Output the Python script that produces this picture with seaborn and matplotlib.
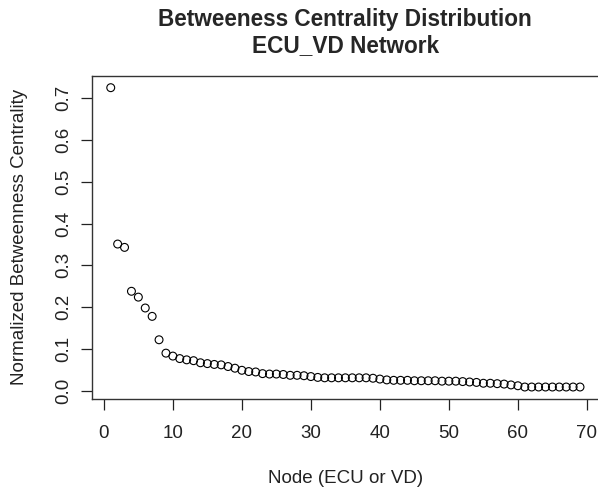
import numpy as np
import pandas as pd
import seaborn as sns
import matplotlib.pyplot as plt

# betweenness values per node
nodes = list(range(1, 70))
betweenness = [
    0.725, 0.351, 0.343, 0.238, 0.224, 0.198, 0.178, 0.122, 0.090, 0.083,
    0.077, 0.074, 0.072, 0.067, 0.065, 0.063, 0.062, 0.058, 0.054, 0.049,
    0.046, 0.045, 0.041, 0.040, 0.040, 0.039, 0.037, 0.037, 0.036, 0.034,
    0.032, 0.031, 0.031, 0.031, 0.031, 0.031, 0.031, 0.031, 0.030, 0.028,
    0.026, 0.025, 0.025, 0.025, 0.024, 0.024, 0.024, 0.024, 0.023, 0.023,
    0.023, 0.022, 0.021, 0.020, 0.018, 0.018, 0.017, 0.016, 0.014, 0.012,
    0.009, 0.009, 0.009, 0.009, 0.009, 0.009, 0.009, 0.009, 0.009,
]
x_ticks = [0, 10, 20, 30, 40, 50, 60, 70]
y_ticks = [0.0, 0.1, 0.2, 0.3, 0.4, 0.5, 0.6, 0.7]

df = pd.DataFrame({"node": nodes, "betweenness": betweenness})

sns.set_style("ticks")
plt.rcParams['font.family'] = ['Liberation Sans', 'DejaVu Sans']

fig = plt.figure(figsize=(5.98, 4.91), dpi=100)
ax = fig.add_axes([0.1538, 0.1874, 0.8475, 0.6584])

sns.scatterplot(data=df, x="node", y="betweenness", ax=ax, s=32,
                marker="o", edgecolor="black", linewidth=0.8, legend=False)
ax.collections[0].set_facecolor("none")

pad_x = (max(nodes) - min(nodes)) * 0.04
pad_y = (max(betweenness) - min(betweenness)) * 0.04
ax.set_xlim(min(nodes) - pad_x, max(nodes) + pad_x)
ax.set_ylim(min(betweenness) - pad_y, max(betweenness) + pad_y)

ax.set_xticks(x_ticks)
ax.set_yticks(y_ticks)
ax.set_yticklabels([f"{v:.1f}" for v in y_ticks], rotation=90, va="center")
ax.tick_params(axis="both", length=8, width=0.9, color="#222222",
               labelsize=13.5, labelcolor="#222222")
ax.tick_params(axis="x", pad=11)
ax.tick_params(axis="y", pad=6)

for sp in ax.spines.values():
    sp.set_visible(True)
    sp.set_color("#333333")
    sp.set_linewidth(1.0)

ax.set_xlabel("Node (ECU or VD)", fontsize=13.5, color="#222222", labelpad=20)
ax.set_ylabel("Normalized Betweenness Centrality", fontsize=13.5,
              color="#222222", labelpad=20)
ax.set_title("Betweeness Centrality Distribution\nECU_VD Network",
             fontsize=16.3, fontweight="bold", pad=17, linespacing=1.2)

fig.savefig("out.png", dpi=100)
